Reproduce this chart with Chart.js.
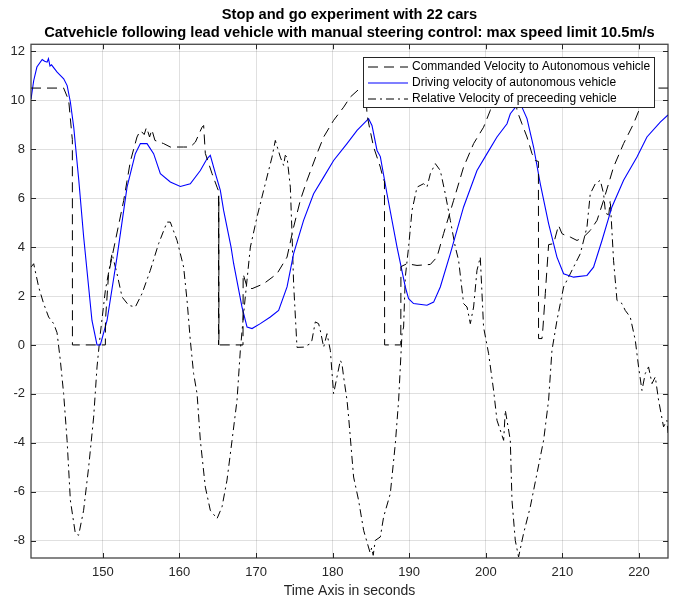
<!DOCTYPE html>
<html>
<head>
<meta charset="utf-8">
<script src="https://cdn.jsdelivr.net/npm/chart.js@4.4.1/dist/chart.umd.min.js"></script>
<style>
  html, body { margin: 0; padding: 0; background: #fff; }
  #chart { display: block; }
</style>
</head>
<body>
<canvas id="chart" width="673" height="599"></canvas>
<script>
// Titles and labels
const titleLines = [
    "Stop and go experiment with 22 cars",
    "Catvehicle following lead vehicle with manual steering control: max speed limit 10.5m/s"
];
const xAxisLabel = "Time Axis in seconds";
const seriesNames = [
    "Commanded Velocity to Autonomous vehicle",
    "Driving velocity of autonomous vehicle",
    "Relative Velocity of preceeding vehicle"
];

// Commanded velocity (dashed)
const cmdTime = [140.62, 144.88, 145.54, 145.98, 146.02, 146.03, 150.33, 150.34, 150.75, 151.2, 152.72, 153.59, 154.46, 154.9, 155.4, 155.7, 156.1, 156.4, 156.8, 157.94, 158.81, 160.55, 161.42, 162.08, 162.95, 163.16, 163.38, 164.26, 164.91, 165.1, 165.12, 165.14, 165.16, 168.3, 168.32, 168.83, 169.48, 170.99, 172.74, 174.05, 174.91, 175.78, 176.66, 177.96, 178.83, 180.13, 181.44, 182.3, 183.6, 184.3, 184.5, 184.81, 185.35, 186.23, 186.66, 186.77, 186.79, 188.9, 188.92, 189.71, 191.02, 192.76, 193.63, 194.49, 195.8, 197.1, 198.41, 199.71, 200.59, 201.1, 203.8, 204.07, 204.72, 205.38, 206.03, 206.46, 206.87, 206.89, 207.34, 207.47, 207.77, 208.2, 208.85, 209.5, 209.94, 210.38, 211.03, 211.91, 212.77, 213.64, 214.52, 215.38, 216.68, 217.99, 219.29, 220.17, 220.7, 223.79];
const cmdVel = [10.5, 10.5, 10.0, 8.5, 8.4, 0, 0, 1.0, 2.9, 3.6, 5.9, 7.5, 8.5, 8.77, 8.6, 8.9, 8.5, 8.8, 8.36, 8.23, 8.09, 8.09, 8.09, 8.29, 8.9, 8.97, 7.83, 7.0, 6.45, 6.3, 0, 6.1, 0, 0, 2.9, 2.37, 2.3, 2.5, 2.91, 3.59, 4.82, 5.91, 6.73, 7.82, 8.5, 9.18, 9.72, 10.13, 10.5, 10.5, 9.4, 8.9, 8.09, 7.27, 6.73, 6.7, 0, 0, 3.2, 3.32, 3.25, 3.29, 3.59, 4.55, 5.91, 7.27, 8.23, 8.9, 9.59, 10.5, 10.5, 9.59, 9.04, 8.5, 7.82, 7.54, 7.5, 0.26, 0.26, 0.73, 2.1, 4.1, 4.14, 4.89, 4.55, 4.48, 4.41, 4.27, 4.41, 4.68, 5.09, 5.91, 7.27, 8.23, 9.04, 9.72, 10.5, 10.5];

// Driving velocity (blue)
const driveTime = [140.62, 140.97, 141.39, 142.08, 142.4, 142.72, 142.9, 143.1, 143.3, 144.03, 144.89, 145.34, 145.76, 146.2, 146.86, 147.5, 148.58, 149.24, 149.67, 150.55, 151.85, 153.16, 154.24, 154.9, 155.77, 156.63, 157.51, 158.81, 160.12, 161.42, 162.73, 163.6, 164.03, 164.7, 165.34, 165.77, 166.74, 167.08, 168.17, 168.83, 169.48, 170.56, 171.87, 172.95, 174.05, 174.91, 176.21, 177.52, 178.83, 180.13, 181.88, 183.19, 184.7, 185.14, 185.8, 186.23, 187.1, 188.41, 189.49, 189.92, 190.57, 192.32, 193.19, 194.06, 195.37, 197.1, 198.85, 200.16, 201.46, 202.77, 203.2, 204.07, 204.72, 205.38, 206.24, 207.11, 208.2, 209.29, 210.16, 211.46, 213.21, 214.07, 215.17, 216.47, 217.99, 219.74, 221.04, 222.78, 223.79];
const driveVel = [10.05, 10.8, 11.36, 11.67, 11.6, 11.56, 11.7, 11.4, 11.45, 11.15, 10.88, 10.6, 9.93, 8.9, 6.73, 4.4, 1.0, 0.0, 0.0, 1.0, 3.59, 6.45, 7.82, 8.23, 8.23, 7.82, 7.0, 6.66, 6.48, 6.59, 7.13, 7.61, 7.75, 7.0, 6.32, 5.5, 4.0, 3.32, 1.55, 0.73, 0.67, 0.87, 1.14, 1.41, 2.37, 3.73, 5.09, 6.18, 6.86, 7.54, 8.23, 8.77, 9.25, 8.97, 7.95, 7.7, 6.18, 4.0, 2.37, 1.89, 1.69, 1.62, 1.75, 2.37, 3.73, 5.64, 7.13, 7.82, 8.5, 9.04, 9.45, 9.79, 9.72, 9.25, 8.09, 6.59, 4.96, 3.59, 2.91, 2.77, 2.84, 3.18, 4.27, 5.64, 6.73, 7.68, 8.5, 9.11, 9.4];

// Relative velocity of preceeding vehicle (dash-dot)
const relTime = [140.62, 140.97, 141.62, 142.27, 142.92, 143.58, 144.02, 144.45, 144.88, 145.33, 145.76, 146.41, 146.84, 147.49, 148.15, 148.8, 149.24, 149.67, 150.33, 151.2, 151.85, 152.51, 153.37, 154.24, 155.12, 156.2, 157.28, 158.38, 158.81, 159.69, 160.55, 161.0, 161.42, 161.85, 162.3, 162.73, 163.38, 164.03, 164.91, 165.56, 166.21, 166.87, 167.52, 167.95, 168.38, 169.26, 170.13, 171.21, 172.09, 172.52, 173.17, 173.6, 173.82, 174.05, 174.48, 174.7, 174.91, 175.35, 176.21, 177.09, 177.3, 177.74, 178.17, 178.39, 178.83, 179.27, 179.7, 180.13, 181.01, 181.22, 181.44, 181.88, 182.09, 182.74, 183.39, 184.05, 184.9, 185.1, 185.3, 185.57, 186.23, 186.66, 187.53, 188.19, 188.62, 189.06, 189.27, 189.49, 189.92, 190.37, 191.02, 191.88, 192.32, 192.76, 193.41, 194.06, 194.71, 195.37, 196.02, 196.45, 197.1, 197.55, 197.98, 198.41, 198.85, 199.28, 199.71, 200.37, 201.02, 201.46, 202.33, 202.55, 203.2, 203.42, 203.85, 204.28, 204.93, 205.81, 206.68, 207.55, 208.2, 208.64, 209.29, 210.16, 211.46, 212.34, 213.21, 213.64, 214.3, 214.95, 215.38, 215.6, 216.03, 216.25, 216.68, 217.13, 217.78, 218.21, 218.86, 219.52, 219.95, 220.39, 220.82, 221.25, 221.7, 222.13, 222.56, 223.21, 223.65, 223.79];
const relVel = [3.18, 3.32, 2.37, 1.69, 1.14, 0.87, 0.5, -0.63, -1.99, -3.9, -6.35, -7.71, -7.78, -6.76, -4.99, -2.95, -0.9, 0.46, 2.23, 3.73, 2.91, 1.96, 1.62, 1.55, 2.1, 3.05, 4.14, 5.02, 5.02, 4.27, 3.18, 1.8, 0.19, -1.17, -1.99, -3.9, -5.81, -6.76, -7.1, -6.62, -5.53, -3.9, -2.26, -0.22, 1.28, 4.0, 5.23, 6.59, 7.68, 8.36, 7.68, 7.34, 7.75, 7.68, 6.45, 4.55, 2.5, -0.1, -0.09, 0.05, 0.19, 0.94, 0.87, 0.6, -0.09, 0.46, -0.22, -1.99, -0.63, -0.77, -1.31, -2.26, -2.95, -5.4, -6.35, -7.58, -8.5, -8.3, -8.6, -7.99, -7.85, -7.03, -6.08, -4.03, -2.26, 0.46, 0.73, 2.77, 4.0, 5.5, 6.45, 6.59, 6.45, 7.0, 7.41, 7.13, 6.18, 5.09, 4.0, 3.46, 1.69, 1.55, 0.87, 1.55, 3.05, 3.59, 0.73, -0.36, -1.86, -3.08, -3.9, -2.67, -3.9, -6.35, -7.99, -8.67, -7.71, -6.62, -5.26, -3.9, -2.26, -0.22, 1.0, 2.37, 3.18, 3.73, 4.82, 6.18, 6.59, 6.73, 6.18, 5.5, 5.23, 5.91, 3.46, 1.82, 1.69, 1.41, 1.14, 0.19, -0.9, -1.86, -1.17, -0.9, -1.58, -1.31, -2.26, -3.35, -3.08, -3.6];

// Axis settings
const xMin = 140.62, xMax = 223.79;
const yMin = -8.71, yMax = 12.29;

const FONT = "'Liberation Sans', Arial, Helvetica, sans-serif";
const AXIS_COLOR = '#262626';

function toPoints(xs, ys) {
    return xs.map((x, i) => ({ x: x, y: ys[i] }));
}

// box with inward ticks, like the original
const axesBox = {
    id: 'axesBox',
    afterDatasetsDraw(chart) {
        const ctx = chart.ctx;
        const a = chart.chartArea;
        const xs = chart.scales.x, ys = chart.scales.y;
        const tick = 5;
        ctx.save();
        ctx.strokeStyle = AXIS_COLOR;
        ctx.lineWidth = 1;
        ctx.beginPath();
        xs.ticks.forEach(t => {
            const px = Math.round(xs.getPixelForValue(t.value)) + 0.5;
            ctx.moveTo(px, a.bottom); ctx.lineTo(px, a.bottom - tick);
            ctx.moveTo(px, a.top); ctx.lineTo(px, a.top + tick);
        });
        ys.ticks.forEach(t => {
            const py = Math.round(ys.getPixelForValue(t.value)) + 0.5;
            ctx.moveTo(a.left, py); ctx.lineTo(a.left + tick, py);
            ctx.moveTo(a.right, py); ctx.lineTo(a.right - tick, py);
        });
        ctx.stroke();
        ctx.strokeStyle = 'rgba(38,38,38,0.85)';
        ctx.lineWidth = 1.3;
        ctx.strokeRect(a.left, a.top, a.right - a.left, a.bottom - a.top);
        ctx.restore();
    }
};

// legend box in the top right corner of the plot
const boxLegend = {
    id: 'boxLegend',
    afterDraw(chart) {
        const ctx = chart.ctx;
        const bx = 363, by = 57, bw = 291, bh = 50;
        ctx.save();
        ctx.fillStyle = '#fff';
        ctx.fillRect(bx, by, bw, bh);
        ctx.strokeStyle = AXIS_COLOR;
        ctx.lineWidth = 1;
        ctx.strokeRect(bx + 0.5, by + 0.5, bw, bh);
        ctx.font = '12px ' + FONT;
        ctx.textBaseline = 'middle';
        chart.data.datasets.forEach((ds, i) => {
            const y = by + 10 + i * 16;
            ctx.beginPath();
            ctx.strokeStyle = ds.borderColor;
            ctx.lineWidth = ds.borderWidth;
            ctx.setLineDash(ds.borderDash || []);
            ctx.moveTo(368, y);
            ctx.lineTo(408, y);
            ctx.stroke();
            ctx.setLineDash([]);
            ctx.fillStyle = '#000';
            ctx.fillText(ds.label, 412, y);
        });
        ctx.restore();
    }
};

const ctx = document.getElementById('chart').getContext('2d');
const chart = new Chart(ctx, {
    type: 'line',
    data: {
        datasets: [
            {
                label: seriesNames[0],
                data: toPoints(cmdTime, cmdVel),
                borderColor: '#000000',
                borderWidth: 1,
                borderDash: [10, 6],
                pointRadius: 0,
                tension: 0,
                fill: false
            },
            {
                label: seriesNames[1],
                data: toPoints(driveTime, driveVel),
                borderColor: '#0000ff',
                borderWidth: 1.1,
                pointRadius: 0,
                tension: 0,
                fill: false
            },
            {
                label: seriesNames[2],
                data: toPoints(relTime, relVel),
                borderColor: '#000000',
                borderWidth: 1,
                borderDash: [8, 4, 2, 4],
                pointRadius: 0,
                tension: 0,
                fill: false
            }
        ]
    },
    options: {
        responsive: false,
        animation: false,
        devicePixelRatio: 1,
        layout: { padding: { left: 0, right: 5, top: 0, bottom: 0 } },
        plugins: {
            legend: { display: false },
            tooltip: { enabled: false },
            title: {
                display: true,
                text: titleLines,
                fullSize: false,
                color: '#000',
                font: { family: FONT, size: 14.7, weight: 'bold', lineHeight: 1.2 },
                padding: { top: 6, bottom: 3 }
            }
        },
        scales: {
            x: {
                type: 'linear',
                min: xMin,
                max: xMax,
                grid: { color: 'rgba(0,0,0,0.12)', drawTicks: false },
                border: { display: false },
                ticks: {
                    stepSize: 10,
                    includeBounds: false,
                    padding: 7,
                    color: AXIS_COLOR,
                    font: { family: FONT, size: 13 }
                },
                title: {
                    display: true,
                    text: xAxisLabel,
                    color: AXIS_COLOR,
                    font: { family: FONT, size: 14 },
                    padding: { top: 0, bottom: -1 }
                },
                afterFit(scale) { scale.height = 41; }
            },
            y: {
                min: yMin,
                max: yMax,
                grid: { color: 'rgba(0,0,0,0.12)', drawTicks: false },
                border: { display: false },
                ticks: {
                    stepSize: 2,
                    includeBounds: false,
                    padding: 6,
                    color: AXIS_COLOR,
                    font: { family: FONT, size: 13 }
                },
                afterFit(scale) { scale.width = 31; }
            }
        }
    },
    plugins: [axesBox, boxLegend]
});
</script>
</body>
</html>
